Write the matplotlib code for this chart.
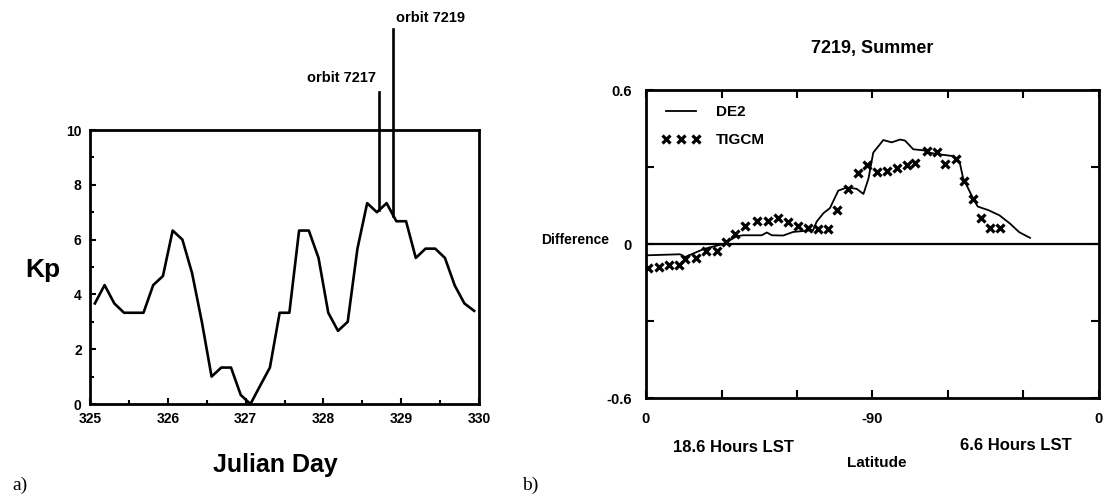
import matplotlib
matplotlib.use("Agg")
import matplotlib.pyplot as plt
from matplotlib import font_manager
import numpy as np

names = {f.name for f in font_manager.fontManager.ttflist}
SANS = "Liberation Sans Narrow" if "Liberation Sans Narrow" in names else "Liberation Sans"
plt.rcParams['font.family'] = [SANS, 'DejaVu Sans']
plt.rcParams['font.weight'] = 'bold'

# ---------------- data: panel a) ----------------
julian_day = [325.0625, 325.1875, 325.3125, 325.4375, 325.5625, 325.6875, 325.8125, 325.9375,
              326.0625, 326.1875, 326.3125, 326.4375, 326.5625, 326.6875, 326.8125, 326.9375,
              327.0625, 327.1875, 327.3125, 327.4375, 327.5625, 327.6875, 327.8125, 327.9375,
              328.0625, 328.1875, 328.3125, 328.4375, 328.5625, 328.6875, 328.8125, 328.9375,
              329.0625, 329.1875, 329.3125, 329.4375, 329.5625, 329.6875, 329.8125, 329.9375]
kp = [3.67, 4.34, 3.67, 3.33, 3.33, 3.33, 4.34, 4.67,
      6.33, 6.0, 4.77, 3.0, 1.0, 1.33, 1.33, 0.33,
      0.0, 0.67, 1.33, 3.33, 3.33, 6.33, 6.33, 5.33,
      3.33, 2.67, 3.0, 5.67, 7.33, 7.0, 7.33, 6.67,
      6.67, 5.33, 5.67, 5.67, 5.33, 4.33, 3.67, 3.4]
orbit_labels = ["orbit 7217", "orbit 7219"]
orbit_day = [328.72, 328.90]
orbit_top = [11.4, 13.7]

# ---------------- data: panel b) ----------------
de2_x = [0.5, 13.5, 15.5, 22.8, 30.7, 36, 38.6, 46, 48, 50, 54.5, 58.5, 66.4, 67.8, 70.5, 73.1,
         76.4, 79.8, 83.7, 86.4, 88.4, 90.3, 94.3, 97.6, 101, 102.9, 106.2, 110.2, 113, 115.9,
         121.7, 124.6, 126, 129.6, 131.8, 136, 140.4, 144.7, 148.3, 152.6]
de2_y = [-0.044, -0.04, -0.051, -0.02, 0.0, 0.03, 0.034, 0.034, 0.045, 0.034, 0.033, 0.047,
         0.054, 0.087, 0.12, 0.14, 0.208, 0.22, 0.215, 0.195, 0.255, 0.356, 0.405, 0.396, 0.407,
         0.403, 0.369, 0.365, 0.355, 0.35, 0.343, 0.32, 0.257, 0.185, 0.146, 0.132, 0.112,
         0.079, 0.046, 0.024]
tigcm_x = [0.9, 5.2, 9.3, 13.2, 15.5, 19.9, 23.8, 28.1, 31.8, 35.4, 39.3, 44, 48.6, 52.6, 56.6,
           60.5, 64.2, 68.2, 72.5, 76, 80.2, 84.4, 87.7, 91.7, 95.6, 99.6, 103.6, 106.9, 111.5,
           115.5, 118.8, 123.1, 126.3, 130, 133.2, 136.8, 140.7]
tigcm_y = [-0.094, -0.09, -0.083, -0.083, -0.058, -0.054, -0.027, -0.027, 0.009, 0.04, 0.07,
           0.09, 0.09, 0.10, 0.087, 0.07, 0.064, 0.06, 0.06, 0.134, 0.215, 0.278, 0.306, 0.279,
           0.285, 0.298, 0.306, 0.315, 0.362, 0.36, 0.31, 0.33, 0.245, 0.175, 0.10, 0.062, 0.062]
lat_ticks = [0, 30, 60, 90, 120, 150, 180]
lat_labels = ["0", "", "", "-90", "", "", "0"]
diff_ticks = [-0.6, -0.3, 0, 0.3, 0.6]
diff_labels = ["-0.6", "", "0", "", "0.6"]

W, H = 1108, 495
fig = plt.figure(figsize=(W / 100, H / 100), dpi=100)

def box(l, t, r, b):
    return [l / W, 1 - b / H, (r - l) / W, (b - t) / H]

# ---------------- panel a ----------------
ax1 = fig.add_axes(box(90, 130, 479, 404))
ax1.plot(julian_day, kp, color='black', lw=1.9)
ax1.set_xlim(325, 330)
ax1.set_ylim(0, 10)
ax1.set_xticks([325, 326, 327, 328, 329, 330])
ax1.set_xticks(np.arange(325.5, 330, 1.0), minor=True)
ax1.set_yticks([0, 2, 4, 6, 8, 10])
ax1.set_yticks([1, 3, 5, 7, 9], minor=True)
ax1.tick_params(direction='in', which='both', labelsize=10, length=4, width=1.5, pad=6)
ax1.tick_params(which='minor', length=3)
for s in ax1.spines.values():
    s.set_linewidth(2)
for lab in ax1.get_xticklabels() + ax1.get_yticklabels():
    lab.set_fontweight('bold')
for d, top, lab, ha, dy in zip(orbit_day, orbit_top, orbit_labels, ['right', 'left'], [0.25, 0.15]):
    base = np.interp(d, julian_day, kp)
    ax1.plot([d, d], [base, top], color='black', lw=1.9, clip_on=False)
    xoff = -0.05 if ha == 'right' else 0.03
    ax1.text(d + xoff, top + dy, lab, ha=ha, va='bottom', fontsize=10.5, fontweight='bold',
             clip_on=False)

fig.text(25 / W, 1 - 270 / H, "Kp", fontsize=19, fontweight='bold', ha='left', va='center')
fig.text(275 / W, 1 - 465 / H, "Julian Day", fontsize=18, fontweight='bold', ha='center', va='center')
fig.text(12 / W, 1 - 485 / H, "a)", fontsize=14, family='Liberation Serif', fontweight='normal',
         ha='left', va='center')

# ---------------- panel b ----------------
ax2 = fig.add_axes(box(646, 90, 1099, 398))
ax2.axhline(0, color='black', lw=1.6)
ax2.plot(de2_x, de2_y, color='black', lw=1.3, label='DE2')
ax2.plot(tigcm_x, tigcm_y, ls='none', marker='x', ms=5.5, mew=2.3, color='black', label='TIGCM')
ax2.set_xlim(0, 180)
ax2.set_ylim(-0.6, 0.6)
ax2.set_xticks(lat_ticks)
ax2.set_xticklabels(lat_labels)
ax2.set_yticks(diff_ticks)
ax2.set_yticklabels(diff_labels)
ax2.tick_params(direction='in', which='both', top=True, right=True, labelsize=10.5,
                length=6, width=1.5, pad=10)
for s in ax2.spines.values():
    s.set_linewidth(2)
for lab in ax2.get_xticklabels() + ax2.get_yticklabels():
    lab.set_fontweight('bold')
leg = ax2.legend(loc='upper left', frameon=False, numpoints=3, handlelength=2.6,
                 prop={'weight': 'bold', 'size': 11}, borderaxespad=0.6, labelspacing=0.9,
                 handletextpad=1.0)
ax2.set_title("7219, Summer", fontsize=13, fontweight='bold', pad=27)

fig.text(575 / W, 1 - 240 / H, "Difference", fontsize=10, fontweight='bold', ha='center', va='center')
fig.text(733 / W, 1 - 447 / H, "18.6 Hours LST", fontsize=12, fontweight='bold', ha='center', va='center')
fig.text(1016 / W, 1 - 445 / H, "6.6 Hours LST", fontsize=12, fontweight='bold', ha='center', va='center')
fig.text(877 / W, 1 - 463 / H, "Latitude", fontsize=11, fontweight='bold', ha='center', va='center')
fig.text(522 / W, 1 - 485 / H, "b)", fontsize=14, family='Liberation Serif', fontweight='normal',
         ha='left', va='center')

fig.savefig("out.png", dpi=100)
